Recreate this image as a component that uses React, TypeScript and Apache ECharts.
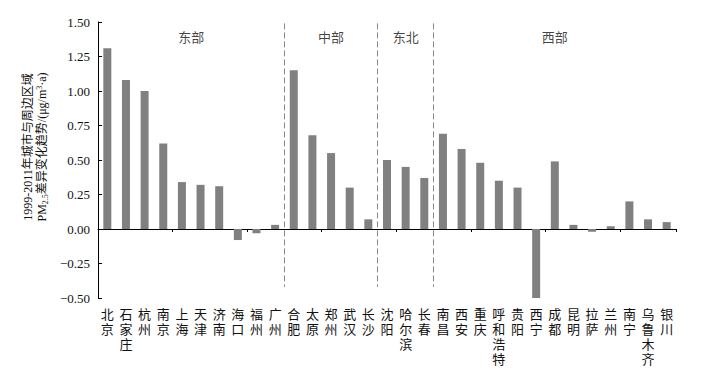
import React, { useEffect, useRef } from "react";
import * as echarts from "echarts";

const cities = [
  "北京", "石家庄", "杭州", "南京", "上海", "天津", "济南", "海口", "福州", "广州",
  "合肥", "太原", "郑州", "武汉", "长沙",
  "沈阳", "哈尔滨", "长春",
  "南昌", "西安", "重庆", "呼和浩特", "贵阳", "西宁", "成都", "昆明", "拉萨", "兰州", "南宁", "乌鲁木齐", "银川",
];
const values = [
  1.31, 1.08, 1.0, 0.62, 0.34, 0.32, 0.31, -0.08, -0.03, 0.03,
  1.15, 0.68, 0.55, 0.3, 0.07,
  0.5, 0.45, 0.37,
  0.69, 0.58, 0.48, 0.35, 0.3, -0.5, 0.49, 0.03, -0.02, 0.02, 0.2, 0.07, 0.05,
];
const regions = ["东部", "中部", "东北", "西部"];
const regionSizes = [10, 5, 3, 13];
const yTicks = { min: -0.5, max: 1.5, interval: 0.25 };

const SERIF = "'Liberation Serif', 'Times New Roman', 'Noto Sans CJK SC', serif";

export default function App() {
  const ref = useRef<HTMLDivElement>(null);
  useEffect(() => {
    document.body.style.margin = "0";
    if (!ref.current) return;
    const chart = echarts.init(ref.current, undefined, { renderer: "svg" });

    const bounds: number[] = [];
    const centers: number[] = [];
    let acc = 0;
    regionSizes.forEach((s, i) => {
      centers.push(acc + s / 2);
      acc += s;
      if (i < regionSizes.length - 1) bounds.push(acc);
    });

    chart.setOption({
      animation: false,
      textStyle: { fontFamily: SERIF },
      grid: { left: 98, right: 36, top: 22, bottom: 85 },
      xAxis: [
        {
          type: "category",
          data: cities,
          axisLine: { onZero: true, lineStyle: { color: "#000", width: 1 } },
          axisTick: { show: true, length: 3, lineStyle: { color: "#000" } },
          axisLabel: { show: false },
        },
        {
          type: "category",
          data: cities,
          position: "bottom",
          axisLine: { show: false, onZero: false },
          axisTick: { show: false },
          axisLabel: {
            interval: 0,
            margin: 9,
            fontSize: 13,
            lineHeight: 15,
            color: "#111",
            fontFamily: SERIF,
            verticalAlign: "top",
            formatter: (v: string) => v.split("").join("\n"),
          },
        },
        {
          type: "value",
          min: 0,
          max: cities.length,
          show: false,
        },
      ],
      yAxis: {
        type: "value",
        min: yTicks.min,
        max: yTicks.max,
        interval: yTicks.interval,
        axisLine: { show: true, onZero: false, lineStyle: { color: "#000" } },
        axisTick: { show: true, inside: true, length: 4, lineStyle: { color: "#000" } },
        splitLine: { show: false },
        axisLabel: {
          fontSize: 13,
          color: "#111",
          fontFamily: SERIF,
          margin: 8,
          formatter: (v: number) => (v < 0 ? "\u2212" + Math.abs(v).toFixed(2) : v.toFixed(2)),
        },
        name: "1999-2011年城市与周边区域\nPM{sub|2.5}差异变化趋势/(μg/m{sup|3}·a)",
        nameLocation: "middle",
        nameRotate: 90,
        nameGap: 38,
        nameTextStyle: {
          fontSize: 12,
          lineHeight: 14,
          color: "#111",
          fontFamily: SERIF,
          padding: [0, 0, 0, 26],
          rich: {
            sub: { fontSize: 8, verticalAlign: "bottom", padding: [6, 0, 0, 0], fontFamily: SERIF, color: "#111" },
            sup: { fontSize: 8, verticalAlign: "top", padding: [0, 0, 6, 0], fontFamily: SERIF, color: "#111" },
          },
        },
      },
      series: [
        {
          type: "bar",
          xAxisIndex: 0,
          data: values,
          barWidth: 8,
          itemStyle: { color: "#808080" },
        },
        {
          type: "scatter",
          xAxisIndex: 2,
          symbolSize: 0,
          data: centers.map((c) => [c, 1.39]),
          label: {
            show: true,
            position: "inside",
            fontSize: 13,
            color: "#111",
            fontFamily: SERIF,
            formatter: (p: any) => regions[p.dataIndex],
          },
          markLine: {
            symbol: "none",
            silent: true,
            label: { show: false },
            lineStyle: { color: "#888", type: [6, 3], width: 1 },
            data: bounds.map((b) => [
              { coord: [b, 1.49] },
              { coord: [b, -0.42] },
            ]),
          },
        },
      ],
    });
    return () => chart.dispose();
  }, []);
  return <div ref={ref} style={{ width: 712, height: 383 }} />;
}
